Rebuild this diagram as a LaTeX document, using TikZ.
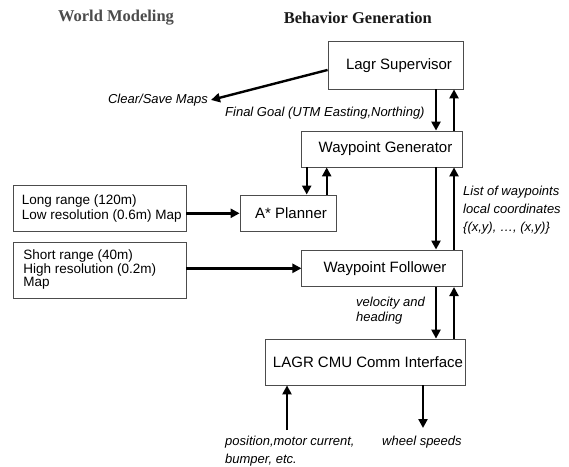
\documentclass[tikz,border=0pt]{standalone}
\usepackage{fontspec}
\setmainfont{Liberation Sans}
\newfontfamily\titlefont{Liberation Serif}
\usetikzlibrary{arrows.meta}
\begin{document}
\begin{tikzpicture}[x=1pt,y=-1pt,
  box/.style={draw=black!70, line width=0.8pt, fill=white, inner sep=0pt, font=\fontsize{15}{18}\selectfont},
  sidebox/.style={draw=black!70, line width=0.8pt, inner sep=0pt},
  sidetext/.style={anchor=west, inner sep=0pt, align=left},
  lbl/.style={font=\fontsize{13}{17}\selectfont\itshape, inner sep=0pt, align=left},
  arr/.style={line width=2.4pt, -{Triangle[length=9pt,width=9pt]}},
  ttl/.style={font=\fontsize{16.5}{20}\selectfont\titlefont\bfseries, inner sep=0pt}]
\useasboundingbox[fill=white] (0,0) rectangle (569,466);

% titles
\node[ttl, text=black!70] (twm) at (116,17.7) {World Modeling};
\node[ttl, text=black!90] (tbg) at (357.8,17.7) {Behavior Generation};

% main boxes
\node[box, minimum width=135pt, minimum height=47.3pt] (sup) at (395.5,65.35) {\hspace*{7pt}Lagr Supervisor};
\node[box, minimum width=160.3pt, minimum height=36pt] (wg) at (382,149) {\hspace*{7pt}Waypoint Generator};
\node[box, minimum width=96pt, minimum height=36.7pt] (astar) at (288,213.3) {\hspace*{6pt}A* Planner};
\node[box, minimum width=160.3pt, minimum height=36.7pt] (wf) at (382,268.3) {\hspace*{6pt}Waypoint Follower};
\node[box, minimum width=200pt, minimum height=46pt] (lagr) at (365,362) {\hspace*{6pt}LAGR CMU Comm Interface};

% side boxes
\node[sidebox, minimum width=173pt, minimum height=46pt] (lr) at (99.5,208) {};
\node[sidetext, font=\fontsize{13.5}{15}\selectfont] (lrt) at ([xshift=9pt,yshift=-1pt]lr.west) {Long range (120m)\\Low resolution (0.6m) Map};
\node[sidebox, minimum width=173pt, minimum height=56pt] (sr) at (99.5,270) {};
\node[sidetext, font=\fontsize{13.5}{13.5}\selectfont] (srt) at ([xshift=10.5pt]sr.west) {Short range (40m)\\High resolution (0.2m)\\Map};

% helper coordinates
\coordinate (dn) at (436,0);
\coordinate (up) at (454,0);
\coordinate (adn) at (306.7,0);
\coordinate (aup) at (326.7,0);
\coordinate (pin) at (287,430);
\coordinate (wout) at (423,428);

% labels
\node[lbl, anchor=east] (cs) at (208,100) {Clear/Save Maps};
\node[lbl, anchor=west] (fg) at (225,113) {Final Goal (UTM Easting,Northing)};
\node[lbl, anchor=west, font=\fontsize{13}{18}\selectfont\itshape] (lw) at (463,210) {List of waypoints\\local coordinates\\\{(x,y), \dots, (x,y)\}};
\node[lbl, anchor=west, font=\fontsize{13}{15}\selectfont\itshape] (vh) at (356,310.5) {velocity and\\heading};
\node[lbl, anchor=west, font=\fontsize{13}{17.5}\selectfont\itshape] (pm) at (225,451) {position,motor current,\\bumper, etc.};
\node[lbl, anchor=west] (ws) at (382,442) {wheel speeds};

% connectors
\draw[arr] ([yshift=-4.6pt]sup.west) -- ([xshift=3pt]cs.east);
\draw[arr] (sup.south -| dn) -- (wg.north -| dn);
\draw[arr] (wg.north -| up) -- (sup.south -| up);
\draw[arr] (wg.south -| adn) -- (astar.north -| adn);
\draw[arr] (astar.north -| aup) -- (wg.south -| aup);
\draw[arr] (wg.south -| dn) -- (wf.north -| dn);
\draw[arr] (wf.north -| up) -- (wg.south -| up);
\draw[arr] (wf.south -| dn) -- (lagr.north -| dn);
\draw[arr] (lagr.north -| up) -- (wf.south -| up);
\draw[arr] (lr.east |- astar.west) -- (astar.west);
\draw[arr] (sr.east |- wf.west) -- (wf.west);
\draw[arr] (pin) -- (lagr.south -| pin);
\draw[arr] (lagr.south -| wout) -- (wout);
\end{tikzpicture}
\end{document}
